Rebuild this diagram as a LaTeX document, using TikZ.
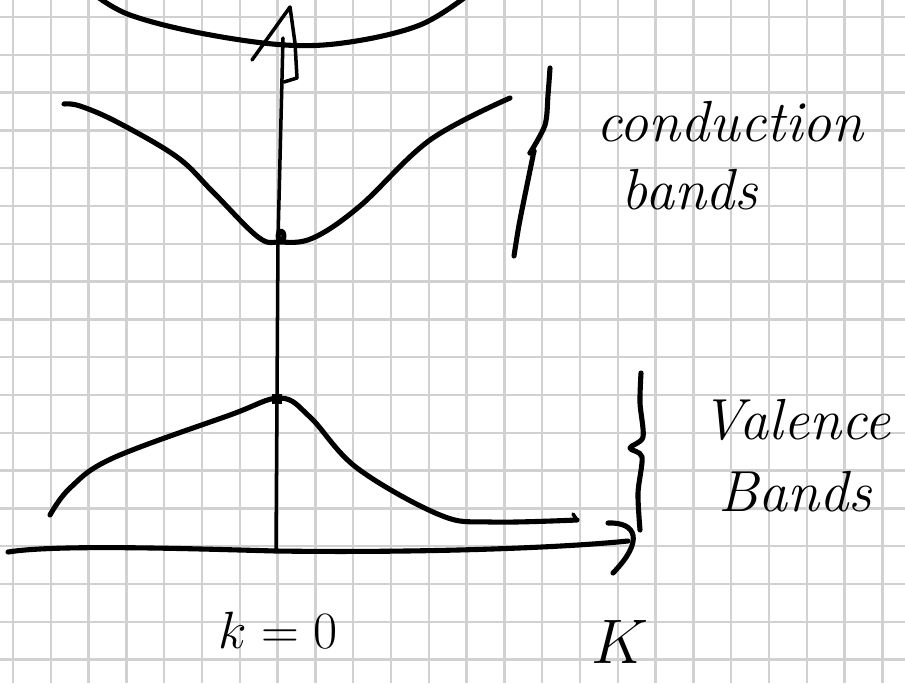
\documentclass[tikz,border=0pt]{standalone}
\begin{document}
\begin{tikzpicture}[x=0.02cm, y=-0.02cm,
  pen/.style={line width=2.9pt, line cap=round, line join=round},
  thinpen/.style={line width=2pt, line cap=round, line join=round},
  gridline/.style={black!18, line width=1.3pt},
  label/.style={font=\fontsize{33}{40}\selectfont\itshape, inner sep=0pt},
  biglabel/.style={font=\Huge, scale=1.2, inner sep=0pt}]
\useasboundingbox (0,0) rectangle (905,683);
% ====================
% Squared paper in the background
\fill[white] (0,0) rectangle (905,683);
\foreach \i in {0,...,23}
  \draw[gridline] ({13+37.8*\i},0) -- ({13+37.8*\i},683);
\foreach \j in {0,...,17}
  \draw[gridline] (0,{17+37.8*\j}) -- (905,{17+37.8*\j});

% ====================
% Axes: energy upwards, k to the right
\coordinate (origin) at (276,551);
\coordinate (Etip) at (290,7);
\coordinate (kleft) at (8,552);
\coordinate (ktip) at (628,541);
% Vertical energy axis with an open hand-drawn head
\draw[thinpen] (origin) -- (278,240) -- (283,38);
\draw[thinpen] (252,60) -- (Etip) -- (295,43) -- (297,78) -- (284,82);
% Horizontal k axis
\draw[pen] (kleft) .. controls (57,544) and (200,549) .. (origin)
  .. controls (420,553) and (560,548) .. (ktip);
\draw[pen] (608,523) .. controls (636,522) and (645,540) .. (613,573);

% ====================
% Upper band, only its bottom is visible
\draw[pen] plot[smooth, tension=0.6] coordinates
  {(95,-5) (130,15) (200,33) (285,45) (350,42) (420,25) (468,-5)};

% ====================
% Conduction band with its minimum at k=0
\draw[pen] plot[smooth, tension=0.6] coordinates
  {(64,104) (80,106) (117,122) (177,157) (213,192) (258,237) (280,242)
   (313,238) (360,206) (430,140) (510,98)};
\draw[pen] (281,236) ellipse (3 and 5);

% ====================
% Valence band with its maximum at k=0
\draw[pen] plot[smooth, tension=0.6] coordinates
  {(50,515) (70,488) (113,458) (230,415) (280,398)
   (310,417) (357,468) (440,515) (490,522) (577,520)};
\draw[thinpen] (573,514) -- (577,520);
\fill (272,394) rectangle (282,404);

% ====================
% Braces beside the bands
\draw[pen] plot[smooth, tension=0.5] coordinates
  {(550,68) (548,95) (545,125) (530,153)};
\draw[pen] (530,153) -- (534,151);
\draw[pen] plot[smooth, tension=0.5] coordinates
  {(534,151) (526,190) (519,225) (514,256)};
\draw[pen] plot[smooth, tension=0.5] coordinates
  {(641,373) (640,403) (643,437) (630,448) (642,457) (638,493) (640,530)};

% ====================
% Labels
\node[label] (cond) at (730,122) {conduction};
\node[label] (condb) at (690,190) {bands};
\node[label] (val) at (796,420) {Valence};
\node[label] (valb) at (795,492) {Bands};
\node[biglabel] (kzero) at (278,630) {$k=0$};
\node[biglabel, scale=1.2] (kaxis) at (620,642) {$K$};
\end{tikzpicture}
\end{document}
